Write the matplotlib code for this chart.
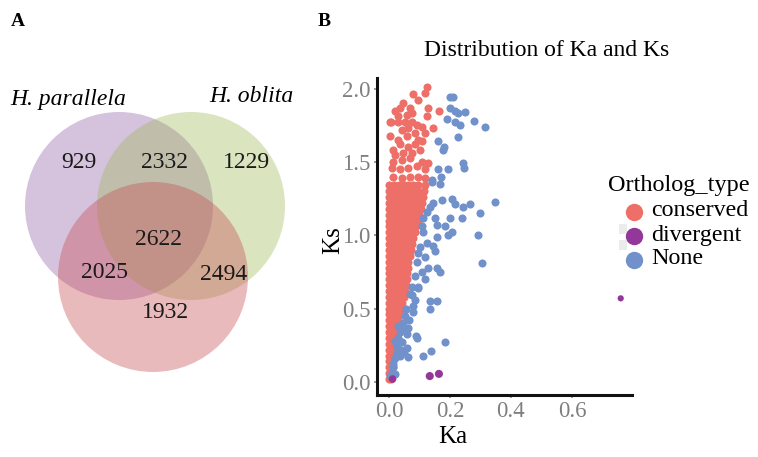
import numpy as np
import matplotlib.pyplot as plt
from matplotlib.patches import Circle, Rectangle

plt.rcParams['font.family'] = ['Liberation Serif', 'DejaVu Serif']

# ---- panel A: venn counts ----
venn_labels = ["929", "2332", "1229", "2622", "2025", "2494", "1932"]
species = ["H. parallela", "H. oblita"]

# ---- panel B: Ka / Ks values ----
# dense part of the conserved cloud, one row per Ks level
conserved_rows = [
    (0.02, [0.0, 0.008]),
    (0.06, [0.0, 0.01]),
    (0.10, [0.0, 0.012]),
    (0.14, [0.0, 0.014]),
    (0.18, [0.0, 0.016]),
    (0.22, [0.0, 0.018]),
    (0.26, [0.0, 0.02]),
    (0.30, [0.0, 0.012, 0.022]),
    (0.34, [0.0, 0.012, 0.025]),
    (0.38, [0.0, 0.014, 0.028]),
    (0.42, [0.0, 0.016, 0.03]),
    (0.46, [0.0, 0.016, 0.032, 0.036]),
    (0.50, [0.0, 0.016, 0.032, 0.04]),
    (0.54, [0.0, 0.016, 0.032, 0.044]),
    (0.58, [0.0, 0.016, 0.032, 0.048]),
    (0.62, [0.0, 0.016, 0.032, 0.048, 0.052]),
    (0.66, [0.0, 0.016, 0.032, 0.048, 0.055]),
    (0.70, [0.0, 0.016, 0.032, 0.048, 0.058]),
    (0.74, [0.0, 0.016, 0.032, 0.048, 0.06]),
    (0.78, [0.0, 0.016, 0.032, 0.048, 0.062]),
    (0.82, [0.0, 0.016, 0.032, 0.048, 0.064]),
    (0.86, [0.0, 0.016, 0.032, 0.048, 0.064, 0.068]),
    (0.90, [0.0, 0.016, 0.032, 0.048, 0.064, 0.072]),
    (0.94, [0.0, 0.016, 0.032, 0.048, 0.064, 0.076]),
    (0.98, [0.0, 0.016, 0.032, 0.048, 0.064, 0.08]),
    (1.02, [0.0, 0.016, 0.032, 0.048, 0.064, 0.08, 0.085]),
    (1.06, [0.0, 0.016, 0.032, 0.048, 0.064, 0.08, 0.09]),
    (1.10, [0.0, 0.016, 0.032, 0.048, 0.064, 0.08, 0.095]),
    (1.14, [0.0, 0.016, 0.032, 0.048, 0.064, 0.08, 0.096, 0.1]),
    (1.18, [0.0, 0.016, 0.032, 0.048, 0.064, 0.08, 0.096, 0.105]),
    (1.22, [0.0, 0.016, 0.032, 0.048, 0.064, 0.08, 0.096, 0.11]),
    (1.26, [0.0, 0.016, 0.032, 0.048, 0.064, 0.08, 0.096, 0.112]),
    (1.30, [0.0, 0.016, 0.032, 0.048, 0.064, 0.08, 0.096, 0.115]),
    (1.34, [0.0, 0.016, 0.032, 0.048, 0.064, 0.08, 0.096, 0.118]),
]
# sparse conserved points above the dense part
conserved_ka = [0.124, 0.118, 0.078, 0.095, 0.046, 0.069, 0.036, 0.02, 0.128, 0.075,
                0.059, 0.03, 0.125, 0.007, 0.03, 0.052, 0.075, 0.092, 0.108, 0.144,
                0.062, 0.043, 0.003, 0.085, 0.118, 0.059, 0.03, 0.095, 0.036, 0.062,
                0.085, 0.108, 0.013, 0.02, 0.046, 0.075, 0.102, 0.013, 0.043, 0.069,
                0.108, 0.128, 0.01, 0.036, 0.062, 0.092, 0.118, 0.013, 0.043, 0.069,
                0.095, 0.118, 0.165, 0.003]
conserved_ks = [2.01, 1.97, 1.96, 1.92, 1.90, 1.87, 1.87, 1.85, 1.87, 1.83,
                1.82, 1.81, 1.81, 1.77, 1.77, 1.77, 1.77, 1.75, 1.74, 1.73,
                1.73, 1.72, 1.68, 1.70, 1.70, 1.68, 1.65, 1.65, 1.62, 1.60,
                1.62, 1.64, 1.58, 1.55, 1.56, 1.56, 1.58, 1.50, 1.51, 1.53,
                1.50, 1.49, 1.46, 1.45, 1.46, 1.47, 1.45, 1.40, 1.39, 1.40,
                1.40, 1.39, 1.85, 1.77]

none_ka = [0.2, 0.21, 0.2, 0.216, 0.226, 0.249, 0.19, 0.216, 0.232, 0.278,
           0.314, 0.226, 0.16, 0.18, 0.177, 0.243, 0.246, 0.16, 0.193, 0.17,
           0.14, 0.14, 0.167, 0.207, 0.174, 0.144, 0.134, 0.125, 0.111, 0.216,
           0.243, 0.266, 0.348, 0.3, 0.24, 0.2, 0.151, 0.157, 0.183, 0.207,
           0.193, 0.108, 0.111, 0.157, 0.125, 0.144, 0.102, 0.292, 0.305, 0.151,
           0.095, 0.118, 0.092, 0.128, 0.157, 0.167, 0.108, 0.085, 0.118, 0.075,
           0.095, 0.095, 0.075, 0.085, 0.134, 0.157, 0.134, 0.079, 0.079, 0.052,
           0.046, 0.062, 0.036, 0.059, 0.092, 0.03, 0.043, 0.026, 0.059, 0.183,
           0.138, 0.111, 0.036, 0.062, 0.02, 0.013, 0.01, 0.02, 0.003, 0.088,
           0.03, 0.045, 0.02, 0.04, 0.05, 0.025, 0.012, 0.065, 0.07, 0.056]
none_ks = [1.94, 1.94, 1.87, 1.85, 1.83, 1.84, 1.79, 1.77, 1.75, 1.78,
           1.74, 1.67, 1.64, 1.60, 1.58, 1.49, 1.46, 1.45, 1.45, 1.40,
           1.38, 1.36, 1.35, 1.25, 1.24, 1.22, 1.19, 1.16, 1.12, 1.21,
           1.19, 1.21, 1.23, 1.15, 1.12, 1.12, 1.12, 1.07, 1.06, 1.02,
           1.0, 1.06, 1.02, 0.99, 0.95, 0.93, 0.92, 1.0, 0.81, 0.89,
           0.88, 0.85, 0.82, 0.78, 0.78, 0.75, 0.75, 0.72, 0.70, 0.65,
           0.65, 0.64, 0.59, 0.56, 0.55, 0.55, 0.50, 0.52, 0.48, 0.45,
           0.40, 0.37, 0.34, 0.33, 0.30, 0.30, 0.27, 0.24, 0.23, 0.27,
           0.21, 0.18, 0.18, 0.17, 0.16, 0.12, 0.06, 0.055, 0.04, 0.31,
           0.38, 0.36, 0.28, 0.22, 0.20, 0.20, 0.10, 0.42, 0.60, 0.50]

divergent_ka = [0.012, 0.134, 0.164, 0.76]
divergent_ks = [0.02, 0.04, 0.055, 0.57]

types = ["conserved", "divergent", "None"]
colors = {"conserved": "#EE6F67", "divergent": "#93379A", "None": "#7191CB"}

ka_c = [ka for ks, row in conserved_rows for ka in row] + conserved_ka
ks_c = [ks for ks, row in conserved_rows for ka in row] + conserved_ks

fig = plt.figure(figsize=(7.58, 4.57), dpi=100)

# overlay in pixel coords for free text / legend
over = fig.add_axes([0, 0, 1, 1], zorder=5)
over.set_xlim(0, 758)
over.set_ylim(457, 0)
over.axis('off')

# ---------------- A: venn ----------------
axA = fig.add_axes([0, 0, 330 / 758, 1])
axA.set_xlim(0, 330)
axA.set_ylim(457, 0)
axA.set_aspect('equal')
axA.axis('off')

circles = [((119, 206), 94, (0.57, 0.38, 0.65)),
           ((191, 206), 94, (0.62, 0.72, 0.35)),
           ((153, 277), 95, (0.78, 0.29, 0.31))]
for (cx, cy), r, c in circles:
    axA.add_patch(Circle((cx, cy), r, facecolor=c, alpha=0.38, edgecolor='none'))

label_pos = [(79, 162), (165, 162), (246, 162), (159, 240), (105, 273), (224, 275), (165, 313)]
for txt, (x, y) in zip(venn_labels, label_pos):
    axA.text(x, y, txt, ha='center', va='center', fontsize=17, color='#1a1a1a')

axA.text(68, 100, species[0], ha='center', va='center', fontsize=17, style='italic')
axA.text(251, 97, species[1], ha='center', va='center', fontsize=17, style='italic')

over.text(18, 22, "A", fontsize=14, fontweight='bold', va='center', ha='center')
over.text(324, 22, "B", fontsize=14, fontweight='bold', va='center', ha='center')

# ---------------- B: scatter ----------------
axB = fig.add_axes([377 / 758, 1 - 395 / 457, 255 / 758, 317 / 457])
axB.scatter(ka_c, ks_c, s=34, color=colors["conserved"], linewidths=0, zorder=2)
axB.scatter(none_ka, none_ks, s=34, color=colors["None"], linewidths=0, zorder=3)
div_sizes = [30, 34, 34, 20]
axB.scatter(divergent_ka, divergent_ks, s=div_sizes, color=colors["divergent"], linewidths=0, zorder=4)

axB.set_xlim(-0.039, 0.797)
axB.set_ylim(-0.089, 2.072)
axB.set_xticks([0.0, 0.2, 0.4, 0.6])
axB.set_yticks([0.0, 0.5, 1.0, 1.5, 2.0])
axB.set_xticklabels(["0.0", "0.2", "0.4", "0.6"])
axB.set_yticklabels(["0.0", "0.5", "1.0", "1.5", "2.0"])
axB.tick_params(colors='#8a8a8a', labelcolor='#7f7f7f', labelsize=16.5, length=2.5, width=1.2, pad=2)
for side in ['top', 'right']:
    axB.spines[side].set_visible(False)
for side in ['left', 'bottom']:
    axB.spines[side].set_linewidth(2.2)
    axB.spines[side].set_color('#111111')

over.text(453, 437, "Ka", fontsize=18, ha='center', va='center')
over.text(333, 240, "Ks", fontsize=18, ha='center', va='center', rotation=90)
over.text(547, 50, "Distribution of Ka and Ks", fontsize=17, ha='center', va='center')

# legend
for y0 in [224, 240]:
    over.add_patch(Rectangle((619, y0), 8, 10, facecolor='#ececec', edgecolor='none'))
over.text(608, 186, "Ortholog_type", fontsize=17.5, ha='left', va='center')
legend_y = [212, 236, 260]
for t, yy in zip(types, legend_y):
    over.plot([634], [yy], marker='o', markersize=12.5, color=colors[t], markeredgewidth=0)
    over.text(651, yy - 1, t, fontsize=17.3, ha='left', va='center')

fig.savefig("out.png", dpi=100)
